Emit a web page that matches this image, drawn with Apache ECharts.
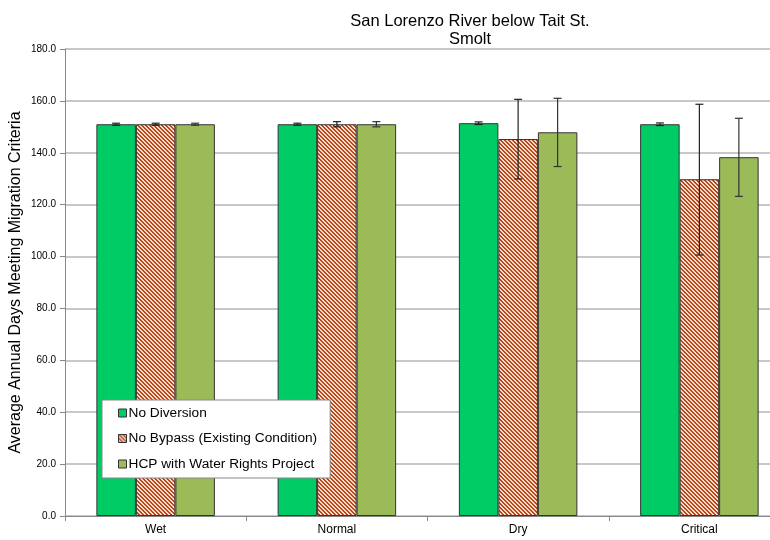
<!DOCTYPE html>
<html>
<head>
<meta charset="utf-8">
<script src="https://cdn.jsdelivr.net/npm/echarts@6/dist/echarts.min.js"></script>
<style>
  html, body { margin: 0; padding: 0; background: #fff; }
  #chart { width: 770px; height: 540px; }
</style>
</head>
<body>
<div id="chart"></div>
<script>
// Water year types
const categories = ['Wet', 'Normal', 'Dry', 'Critical'];

// Average annual days meeting migration criteria
const noDiversion = [151.0, 151.0, 151.4, 151.0];
const noBypass = [151.0, 151.0, 145.3, 129.8];
const hcpProject = [151.0, 151.0, 147.9, 138.3];

// Error bar ranges [low, high]
const noDiversionErr = [[150.6, 151.4], [150.6, 151.4], [150.9, 151.9], [150.5, 151.5]];
const noBypassErr = [[150.6, 151.4], [150.0, 152.0], [129.9, 160.6], [100.6, 158.7]];
const hcpProjectErr = [[150.6, 151.4], [150.0, 152.0], [134.7, 161.0], [123.2, 153.3]];

const yTicks = [0, 20, 40, 60, 80, 100, 120, 140, 160, 180];

const seriesNames = ['No Diversion', 'No Bypass (Existing Condition)', 'HCP with Water Rights Project'];

// Diagonal hatch fill for the existing-condition bars
function makeHatch() {
  const c = document.createElement('canvas');
  c.width = 4; c.height = 4;
  const ctx = c.getContext('2d');
  ctx.fillStyle = '#f6dccb';
  ctx.fillRect(0, 0, 4, 4);
  ctx.fillStyle = '#b9471a';
  for (let i = 0; i < 4; i++) {
    ctx.fillRect(i, i, 2, 1);
  }
  ctx.fillRect(0, 3, 1, 1);
  return c;
}
const hatch = { image: makeHatch(), repeat: 'repeat' };

const barWidth = 39.5;
const chart = echarts.init(document.getElementById('chart'));

function errorSeries(errData, offsetIndex, color) {
  return {
    type: 'custom',
    z: 5,
    data: errData.map((d, i) => [i, d[0], d[1]]),
    renderItem: function (params, api) {
      const cat = api.value(0);
      const lo = api.coord([cat, api.value(1)]);
      const hi = api.coord([cat, api.value(2)]);
      const x = lo[0] + offsetIndex * barWidth;
      const cap = 4;
      const style = { stroke: color, lineWidth: 1.2 };
      return {
        type: 'group',
        children: [
          { type: 'line', shape: { x1: x, y1: hi[1], x2: x, y2: lo[1] }, style: style },
          { type: 'line', shape: { x1: x - cap, y1: hi[1], x2: x + cap, y2: hi[1] }, style: style },
          { type: 'line', shape: { x1: x - cap, y1: lo[1], x2: x + cap, y2: lo[1] }, style: style }
        ]
      };
    }
  };
}

const barBorder = { borderColor: '#333', borderWidth: 1 };

chart.setOption({
  animation: false,
  backgroundColor: '#fff',
  textStyle: { fontFamily: 'Liberation Sans, Arial, sans-serif' },
  title: {
    text: 'San Lorenzo River below Tait St.\nSmolt',
    left: 465,
    top: 7,
    textAlign: 'center',
    textStyle: { fontSize: 16.5, fontWeight: 'normal', color: '#000', lineHeight: 18, fontFamily: 'Liberation Sans, Arial, sans-serif' }
  },
  grid: { left: 65, right: -20, top: 49, bottom: 24, outerBoundsMode: 'none', containLabel: false },
  legend: {
    orient: 'vertical',
    left: 102,
    top: 400,
    padding: [6, 13, 7, 16],
    itemGap: 11.5,
    itemWidth: 8,
    itemHeight: 8,
    backgroundColor: '#fff',
    borderColor: '#888',
    borderWidth: 1,
    icon: 'rect',
    textStyle: { fontSize: 13.7, color: '#000', padding: [0, 0, 0, -3] },
    data: seriesNames.map(n => ({ name: n, itemStyle: { borderColor: '#333', borderWidth: 1 } }))
  },
  xAxis: {
    type: 'category',
    data: categories,
    axisLine: { lineStyle: { color: '#888', width: 1 } },
    axisTick: { show: true, length: 5, lineStyle: { color: '#888' } },
    axisLabel: { color: '#000', fontSize: 12, margin: 8 },
    splitLine: { show: false }
  },
  yAxis: {
    type: 'value',
    min: 0,
    max: 180,
    interval: 20,
    name: 'Average Annual Days Meeting Migration Criteria',
    nameLocation: 'middle',
    nameGap: 41,
    nameMoveOverlap: false,
    nameTextStyle: { fontSize: 16, color: '#000' },
    axisLine: { show: true, lineStyle: { color: '#888', width: 1 } },
    axisTick: { show: true, length: 5, lineStyle: { color: '#888' } },
    axisLabel: {
      color: '#000',
      fontSize: 10,
      margin: 9,
      formatter: v => yTicks.includes(v) ? v.toFixed(1) : ''
    },
    splitLine: { show: true, lineStyle: { color: '#c8c8c8', width: 2 } }
  },
  series: [
    {
      name: seriesNames[0],
      type: 'bar',
      data: noDiversion,
      barWidth: barWidth,
      barGap: '0%',
      itemStyle: Object.assign({ color: '#00cc66' }, barBorder)
    },
    {
      name: seriesNames[1],
      type: 'bar',
      data: noBypass,
      barWidth: barWidth,
      barGap: '0%',
      itemStyle: Object.assign({ color: hatch }, barBorder)
    },
    {
      name: seriesNames[2],
      type: 'bar',
      data: hcpProject,
      barWidth: barWidth,
      barGap: '0%',
      itemStyle: Object.assign({ color: '#9bbb59' }, barBorder)
    },
    errorSeries(noDiversionErr, -1, '#222'),
    errorSeries(noBypassErr, 0, '#222'),
    errorSeries(hcpProjectErr, 1, '#333')
  ]
});
</script>
</body>
</html>
